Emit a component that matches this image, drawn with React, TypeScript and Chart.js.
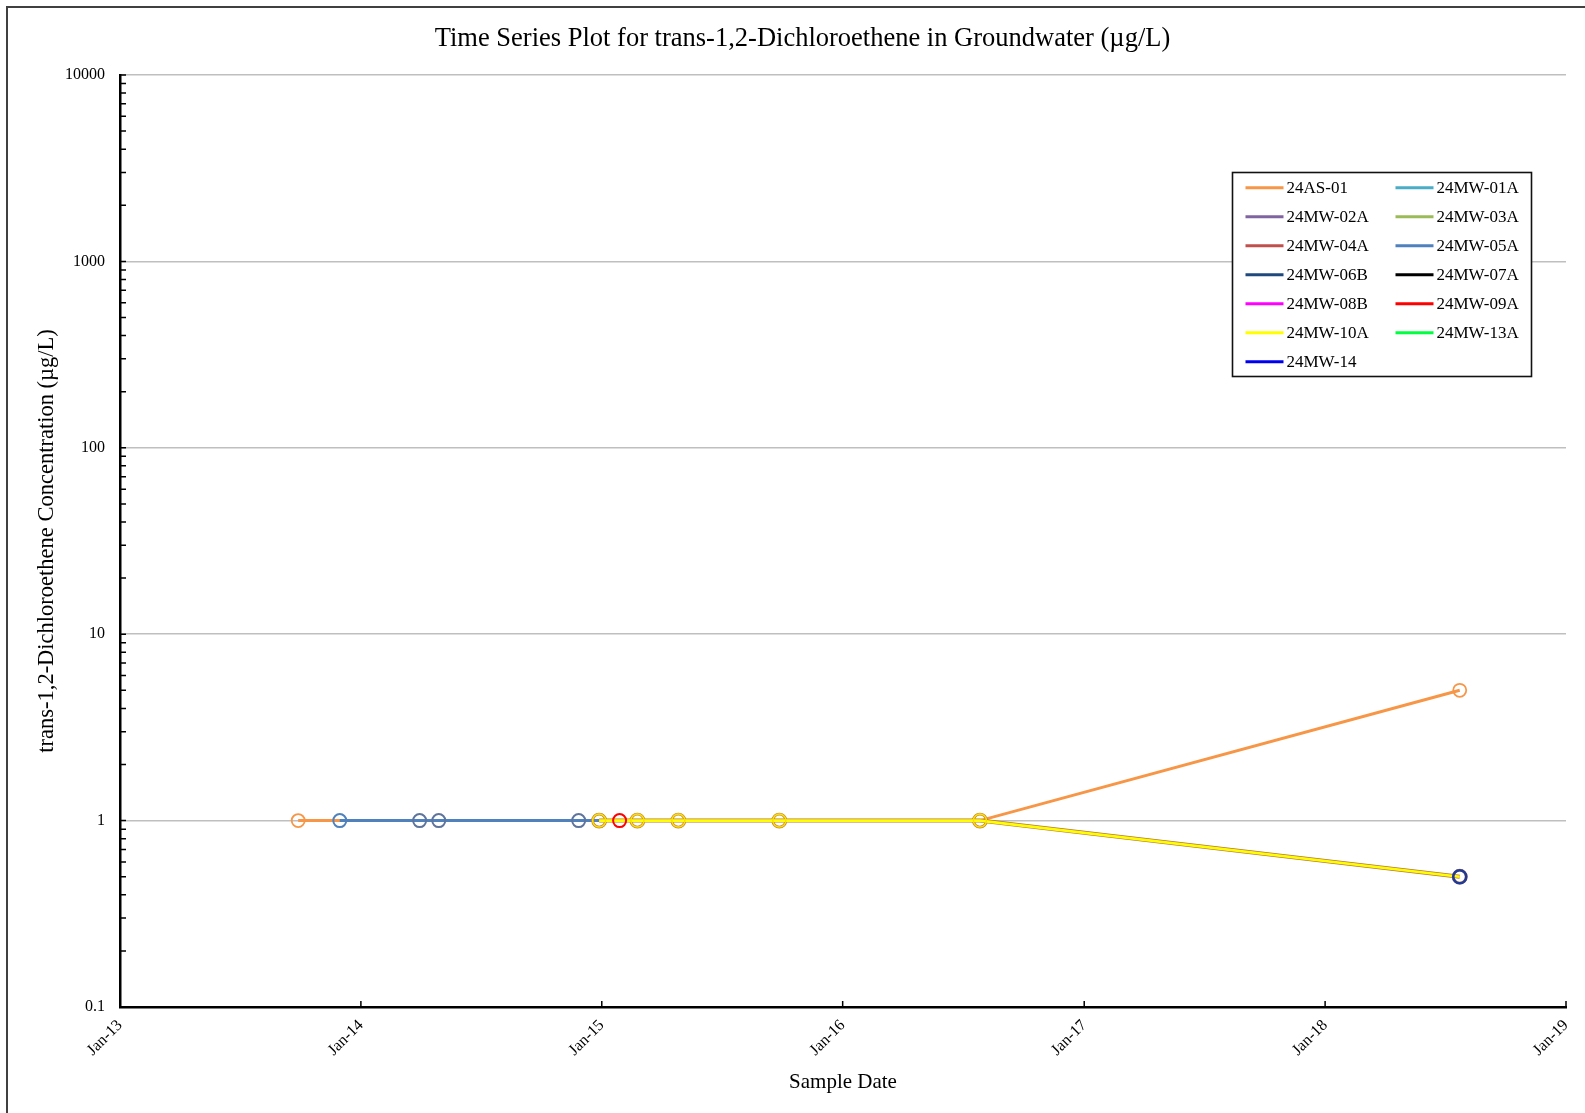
import React, { useEffect, useRef } from 'react';
import { Chart, registerables } from 'chart.js';

Chart.register(...registerables);

const FONT_FAMILY = '"Liberation Serif", "Times New Roman", Times, serif';

const chartTitle = 'Time Series Plot for trans-1,2-Dichloroethene in Groundwater (µg/L)';
const xAxisTitle = 'Sample Date';
const yAxisTitle = 'trans-1,2-Dichloroethene Concentration (µg/L)';

const seriesNames = [
  '24AS-01', '24MW-01A', '24MW-02A', '24MW-03A', '24MW-04A', '24MW-05A', '24MW-06B',
  '24MW-07A', '24MW-08B', '24MW-09A', '24MW-10A', '24MW-13A', '24MW-14',
];
const seriesColors = [
  '#F79646', '#4BACC6', '#8064A2', '#9BBB59', '#C0504D', '#4F81BD', '#1F497D',
  '#000000', '#FF00FF', '#FF0000', '#FFFF00', '#00FF40', '#0000F0',
];

// Sample dates (ISO) and concentrations (µg/L)
const as01Dates = ['2013-09-28', '2016-07-27', '2018-07-24'];
const as01Values = [1, 1, 5];
const mw04aDates = ['2014-12-28', '2015-02-24', '2015-04-27', '2015-09-27', '2016-07-27', '2018-07-24'];
const mw04aValues = [1, 1, 1, 1, 1, 0.5];
const mw05aDates = ['2013-11-30', '2014-03-31', '2014-04-29', '2014-11-27', '2014-12-28'];
const mw05aValues = [1, 1, 1, 1, 1];
const mw09aDates = ['2015-01-28'];
const mw09aValues = [1];
const mw10aDates = ['2014-12-28', '2015-02-24', '2015-04-27', '2015-09-27', '2016-07-27', '2018-07-24'];
const mw10aValues = [1, 1, 1, 1, 1, 0.5];
const mw14Dates = ['2018-07-24'];
const mw14Values = [0.5];

const xTickYears = [2013, 2014, 2015, 2016, 2017, 2018, 2019];
const xTickLabels = ['Jan-13', 'Jan-14', 'Jan-15', 'Jan-16', 'Jan-17', 'Jan-18', 'Jan-19'];
const yTickValues = [0.1, 1, 10, 100, 1000, 10000];
const yTickLabels = ['0.1', '1', '10', '100', '1000', '10000'];

const toDay = (iso: string) => Date.parse(iso + 'T00:00:00Z') / 86400000;
const pts = (dates: string[], values: number[]) => dates.map((d, i) => ({ x: toDay(d), y: values[i] }));

const seriesData: { x: number; y: number }[][] = [
  pts(as01Dates, as01Values),
  [], [], [],
  pts(mw04aDates, mw04aValues),
  pts(mw05aDates, mw05aValues),
  [], [], [],
  pts(mw09aDates, mw09aValues),
  pts(mw10aDates, mw10aValues),
  [],
  pts(mw14Dates, mw14Values),
];

// drawing order (higher = further back)
const seriesOrder = [6, 10, 10, 10, 4, 5, 10, 10, 10, 2, 3, 10, 1];
const seriesLineWidth = [3, 3, 3, 3, 4, 3, 3, 3, 3, 3, 2.6, 3, 3];
const seriesMarkerWidth = [1.8, 1.8, 1.8, 1.8, 2.8, 2, 1.8, 1.8, 1.8, 2, 1.5, 1.8, 2.6];

const markerColor = (i: number): string | string[] => {
  if (i === 5) return ['#4F81BD', '#5E749C', '#5E749C', '#5E749C', '#4F81BD'];
  if (i === 4) return '#D0803A';
  if (i === 12) return '#1F3A9A';
  if (i === 10) return '#F5E400';
  return seriesColors[i];
};

const lineColor = (i: number): string => {
  if (i === 4) return '#B8743A';
  return seriesColors[i];
};

const axisTicksPlugin = {
  id: 'axisTicks',
  afterDraw(chart: any) {
    const { ctx, chartArea, scales } = chart;
    ctx.save();
    ctx.strokeStyle = '#000';
    ctx.lineWidth = 1.5;
    ctx.beginPath();
    scales.x.ticks.forEach((t: any) => {
      const px = scales.x.getPixelForValue(t.value);
      ctx.moveTo(px, chartArea.bottom);
      ctx.lineTo(px, chartArea.bottom - 6);
    });
    scales.y.ticks.forEach((t: any) => {
      const py = scales.y.getPixelForValue(t.value);
      ctx.moveTo(chartArea.left, py);
      ctx.lineTo(chartArea.left + 6, py);
    });
    ctx.stroke();
    ctx.restore();
  },
};

const boxLegendPlugin = {
  id: 'boxLegend',
  afterDraw(chart: any) {
    const { ctx } = chart;
    const x0 = 1232.5, y0 = 172.5, w = 299, h = 204;
    ctx.save();
    ctx.fillStyle = '#fff';
    ctx.fillRect(x0, y0, w, h);
    ctx.strokeStyle = '#111';
    ctx.lineWidth = 1.6;
    ctx.strokeRect(x0, y0, w, h);
    ctx.font = `17px ${FONT_FAMILY}`;
    ctx.textBaseline = 'middle';
    ctx.textAlign = 'left';
    chart.data.datasets.forEach((ds: any, i: number) => {
      const row = Math.floor(i / 2);
      const col = i % 2;
      const lx = col === 0 ? 1245.5 : 1395.5;
      const y = 187.7 + row * 29;
      ctx.strokeStyle = seriesColors[i];
      ctx.lineWidth = 3;
      ctx.beginPath();
      ctx.moveTo(lx, y);
      ctx.lineTo(lx + 38, y);
      ctx.stroke();
      ctx.fillStyle = '#000';
      ctx.fillText(ds.label, lx + 41, y + 1);
    });
    ctx.restore();
  },
};

export default function App() {
  const ref = useRef<HTMLCanvasElement>(null);

  useEffect(() => {
    if (!ref.current) return;
    const datasets = seriesNames.map((name, i) => ({
      label: name,
      data: seriesData[i],
      borderColor: lineColor(i),
      backgroundColor: seriesColors[i],
      borderWidth: seriesLineWidth[i],
      pointRadius: 6.5,
      pointHoverRadius: 6.5,
      pointStyle: 'circle',
      pointBorderColor: markerColor(i),
      pointBackgroundColor: 'rgba(0,0,0,0)',
      pointBorderWidth: seriesMarkerWidth[i],
      tension: 0,
      fill: false,
      order: seriesOrder[i],
    }));

    const chart = new Chart(ref.current, {
      type: 'line',
      data: { datasets } as any,
      options: {
        animation: false,
        responsive: false,
        maintainAspectRatio: false,
        events: [],
        layout: { padding: { left: 39, right: 19, top: 0, bottom: 0 } },
        plugins: {
          legend: { display: false },
          tooltip: { enabled: false },
          title: {
            display: true,
            text: chartTitle,
            color: '#000',
            font: { family: FONT_FAMILY, size: 26.5, weight: 'normal', lineHeight: 1.2 },
            padding: { top: 23.5, bottom: 19.7 },
          },
        },
        scales: {
          x: {
            type: 'linear',
            min: toDay('2013-01-01'),
            max: toDay('2019-01-01'),
            afterBuildTicks: (axis: any) => {
              axis.ticks = xTickYears.map((y) => ({ value: toDay(`${y}-01-01`) }));
            },
            afterFit: (axis: any) => {
              axis.height = 106;
              axis.paddingLeft = 0;
              axis.paddingRight = 0;
            },
            ticks: {
              autoSkip: false,
              maxRotation: 45,
              minRotation: 45,
              padding: 9,
              color: '#000',
              font: { family: FONT_FAMILY, size: 16 },
              callback: (_v: any, index: number) => xTickLabels[index],
            },
            grid: { display: false, drawTicks: false },
            border: { display: true, color: '#000', width: 2.5 },
            title: {
              display: true,
              text: xAxisTitle,
              color: '#000',
              font: { family: FONT_FAMILY, size: 21, lineHeight: 1.2 },
              padding: { top: 0, bottom: 18 },
            },
          },
          y: {
            type: 'logarithmic',
            min: 0.1,
            max: 10000,
            afterBuildTicks: (axis: any) => {
              const ticks: any[] = [];
              for (let k = 0; k < yTickValues.length - 1; k++) {
                for (let m = 1; m <= 9; m++) {
                  ticks.push({ value: m * yTickValues[k], major: m === 1 });
                }
              }
              ticks.push({ value: yTickValues[yTickValues.length - 1], major: true });
              axis.ticks = ticks;
            },
            afterFit: (axis: any) => {
              axis.width = 81;
            },
            ticks: {
              autoSkip: false,
              padding: 15,
              color: '#000',
              font: { family: FONT_FAMILY, size: 16 },
              callback: (_v: any, index: number, ticks: any[]) => {
                const t = ticks[index];
                if (!t || !t.major) return '';
                const k = Math.round(Math.log10(t.value)) + 1;
                return yTickLabels[k];
              },
            },
            grid: {
              drawTicks: false,
              lineWidth: 1.5,
              color: (ctx: any) => (ctx.tick && ctx.tick.major ? '#BFBFBF' : 'rgba(0,0,0,0)'),
            },
            border: { display: true, color: '#000', width: 2.5 },
            title: {
              display: true,
              text: yAxisTitle,
              color: '#000',
              font: { family: FONT_FAMILY, size: 22.5, lineHeight: 1 },
              padding: { top: -3.5, bottom: 0 },
            },
          },
        },
      } as any,
      plugins: [axisTicksPlugin, boxLegendPlugin],
    });

    return () => chart.destroy();
  }, []);

  return (
    <div
      style={{
        position: 'absolute',
        left: 0,
        top: 0,
        width: 1585,
        height: 1113,
        overflow: 'hidden',
        background: '#fff',
      }}
    >
      <canvas ref={ref} width={1585} height={1113} style={{ display: 'block', width: 1585, height: 1113 }} />
      <div
        style={{
          position: 'absolute',
          left: 6,
          top: 6,
          width: 1640,
          height: 1200,
          borderLeft: '2px solid #404040',
          borderTop: '2px solid #404040',
          pointerEvents: 'none',
        }}
      />
    </div>
  );
}
